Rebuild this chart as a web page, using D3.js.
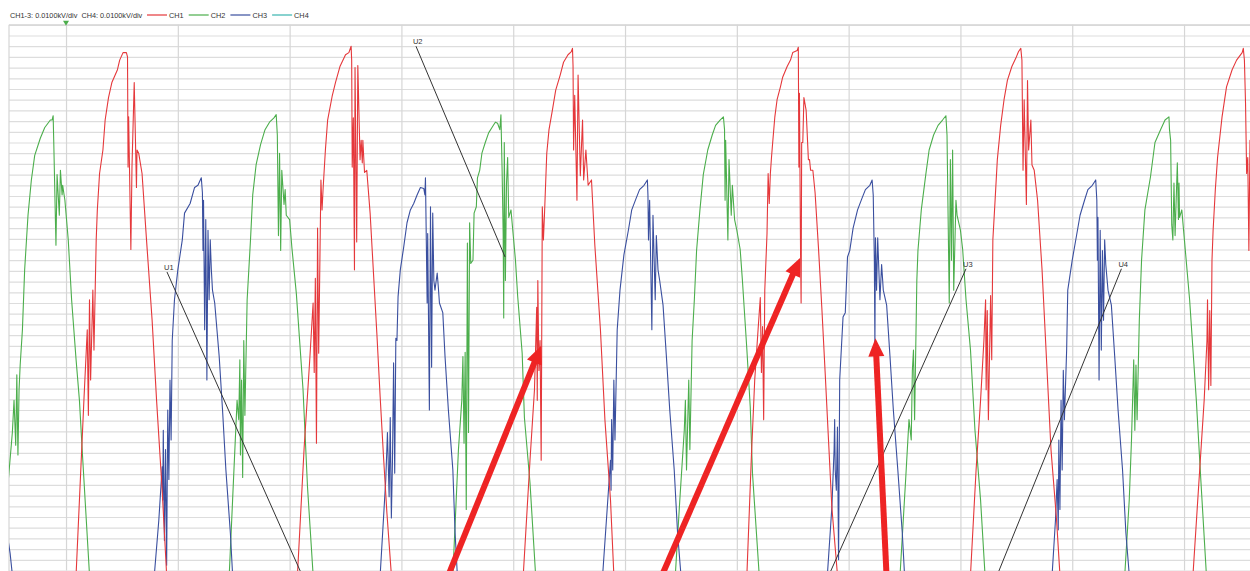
<!DOCTYPE html>
<html>
<head>
<meta charset="utf-8">
<script src="https://cdn.jsdelivr.net/npm/d3@7"></script>
<style>
  body { margin: 0; background: #fff; }
  svg { display: block; }
</style>
</head>
<body>
<div id="chart"></div>
<script>
var width = 1250;
var height = 571;

// time in ms (10 ms / div), voltage in V (1 V per fine row)
var timeDomain = [-5.1, 105.9];
var voltDomain = [0, 51];
var timeGrid = [0, 10, 20, 30, 40, 50, 60, 70, 80, 90, 100];
var voltGrid = d3.range(0, 52, 1);

var channels = ["CH1", "CH2", "CH3", "CH4"];
var channelColors = ["#e5383b", "#4cae4c", "#3a4f9f", "#3ab5b0"];
var scaleText = "CH1-3: 0.0100kV/div  CH4: 0.0100kV/div";

// CH1 (red) pulses
var ch1Pulses = [
  [[0.7,-3],[0.9,-0.4],[1.6,15.9],[1.9,22.5],[2.0,14.5],[2.1,25.3],[2.2,17.8],[2.4,26.2],[2.5,20.6],[2.7,30.9],[2.8,33.7],[3.0,37.1],[3.3,39.3],[3.5,42.1],[3.8,44.2],[4.1,45.6],[4.6,46.8],[4.8,47.7],[5.1,48.4],[5.4,48.4],[5.5,48.0],[5.55,37.7],[5.6,42.4],[5.8,30.0],[5.9,37.7],[6.1,45.6],[6.3,35.8],[6.35,39.3],[6.5,39.0],[6.8,37.1],[7.2,30.9],[7.7,23.4],[8.1,15.9],[8.6,7.5],[9.0,-0.4],[9.2,-3]],
  [[20.5,-3],[20.7,-0.4],[21.3,11.5],[21.8,19.7],[22.1,25.0],[22.2,18.5],[22.3,27.3],[22.4,11.9],[22.5,32.0],[22.6,20.3],[22.8,36.5],[22.9,33.7],[23.0,35.8],[23.2,39.3],[23.4,42.1],[23.8,44.3],[24.1,45.6],[24.5,47.1],[25.0,48.2],[25.3,48.4],[25.5,49.0],[25.55,47.7],[25.6,37.7],[25.7,42.3],[25.8,28.1],[25.85,47.0],[26.0,30.7],[26.1,47.2],[26.3,38.4],[26.4,40.2],[26.5,38.1],[26.55,40.2],[26.7,37.2],[26.9,37.4],[27.2,33.4],[27.5,27.8],[27.8,22.2],[28.1,16.2],[28.4,10.6],[28.7,5.4],[29.1,-0.4],[29.3,-3]],
  [[40.7,-3],[40.9,-0.4],[41.5,10.3],[41.9,16.9],[42.1,24.6],[42.15,15.9],[42.2,27.1],[42.3,18.7],[42.4,21.5],[42.5,10.3],[42.6,34.0],[42.7,30.9],[42.8,33.4],[43.0,39.0],[43.2,41.2],[43.5,43.0],[43.8,44.9],[44.2,46.3],[44.5,47.5],[44.9,48.2],[45.2,48.5],[45.3,48.8],[45.35,47.2],[45.4,39.3],[45.5,44.4],[45.7,34.6],[45.8,46.3],[46.0,36.9],[46.2,42.1],[46.3,36.5],[46.5,39.3],[46.7,36.0],[47.0,36.5],[47.3,30.4],[47.8,22.5],[48.2,14.1],[48.7,6.6],[49.0,-0.4],[49.2,-3]],
  [[60.7,-3],[60.9,-0.4],[61.3,10.6],[61.6,17.8],[61.9,22.5],[62.1,25.5],[62.2,18.5],[62.3,22.8],[62.4,14.1],[62.5,26.2],[62.7,31.5],[62.8,37.1],[62.9,34.3],[63.0,37.1],[63.1,38.6],[63.2,39.9],[63.4,42.4],[63.6,44.0],[63.9,45.2],[64.1,46.1],[64.5,47.1],[64.8,47.7],[65.0,48.4],[65.4,48.6],[65.5,48.9],[65.55,37.7],[65.6,44.6],[65.7,29.7],[65.75,25.0],[65.8,40.0],[65.9,40.0],[66.0,44.2],[66.2,43.0],[66.4,38.4],[66.5,38.4],[66.6,37.4],[66.8,37.4],[67.0,35.3],[67.3,30.2],[67.6,24.6],[67.9,18.5],[68.2,12.2],[68.5,5.9],[69.0,-0.4],[69.2,-3]],
  [[80.7,-3],[80.9,-0.4],[81.4,9.4],[81.8,15.9],[82.1,21.5],[82.25,25.3],[82.3,16.9],[82.4,24.3],[82.5,14.1],[82.7,25.7],[82.8,19.7],[82.9,30.9],[83.1,34.6],[83.3,38.4],[83.6,41.6],[83.9,44.0],[84.2,45.8],[84.6,47.1],[85.0,48.0],[85.2,48.5],[85.4,48.8],[85.5,47.7],[85.6,37.4],[85.7,44.0],[85.9,34.2],[86.0,45.8],[86.1,39.3],[86.3,42.1],[86.4,37.9],[86.6,37.4],[86.9,34.6],[87.3,28.1],[87.7,19.7],[88.1,11.3],[88.6,4.7],[88.9,-0.4],[89.1,-3]],
  [[100.6,-3],[100.8,-0.4],[101.4,9.4],[101.8,15.9],[102.05,21.5],[102.1,25.3],[102.2,16.9],[102.3,24.3],[102.4,17.3],[102.5,29.0],[102.6,31.8],[102.8,35.6],[103.0,38.6],[103.4,42.4],[103.8,45.2],[104.3,46.8],[104.7,47.7],[105.2,48.4],[105.3,48.8],[105.4,47.7],[105.5,43.7],[105.6,37.1],[105.7,38.6],[105.8,29.9],[105.9,40.2],[106.1,37.4],[106.4,31.8],[107.0,21.5],[107.6,-0.4]]
];

// CH2 (green) pulses
var ch2Pulses = [
  [[-6.1,-3],[-5.9,-0.4],[-5.1,9.2],[-4.8,12.9],[-4.65,15.9],[-4.5,11.7],[-4.4,18.3],[-4.3,10.8],[-4.2,16.9],[-4.1,19.2],[-3.9,22.5],[-3.7,28.1],[-3.4,33.2],[-3.1,36.5],[-2.8,38.8],[-2.3,40.4],[-1.9,41.4],[-1.4,42.1],[-1.25,42.1],[-1.15,42.5],[-1.1,40.2],[-0.9,30.4],[-0.8,37.0],[-0.6,33.2],[-0.5,37.4],[-0.35,35.1],[-0.3,36.0],[-0.1,34.6],[0.2,30.9],[0.5,25.3],[0.9,19.7],[1.2,15.9],[1.5,10.3],[2.1,-0.4],[2.3,-3]],
  [[14.4,-3],[14.6,-0.4],[14.9,6.6],[15.3,15.9],[15.45,14.1],[15.55,19.7],[15.6,10.8],[15.7,17.8],[15.8,8.7],[15.9,21.5],[16.0,14.5],[16.2,25.3],[16.5,30.9],[16.7,35.1],[17.0,37.9],[17.4,39.8],[17.8,41.2],[18.2,41.9],[18.6,42.3],[18.8,42.6],[18.9,40.7],[19.0,31.3],[19.1,39.0],[19.2,29.9],[19.3,37.4],[19.5,34.2],[19.6,35.6],[19.7,33.2],[20.0,32.8],[20.2,30.2],[20.6,25.9],[21.2,16.9],[21.6,7.8],[22.1,-0.4],[22.3,-3]],
  [[34.4,-3],[34.6,-0.4],[35.1,11.3],[35.4,15.9],[35.5,20.0],[35.6,11.9],[35.7,20.4],[35.8,5.7],[35.9,30.6],[36.0,12.9],[36.1,32.5],[36.2,28.7],[36.4,29.0],[36.5,33.4],[36.7,34.0],[36.8,36.7],[37.0,37.4],[37.2,39.0],[37.5,40.0],[37.8,40.9],[38.1,41.4],[38.4,41.9],[38.6,41.8],[38.8,41.2],[38.9,42.6],[39.0,37.7],[39.1,31.5],[39.15,23.6],[39.2,40.0],[39.3,27.1],[39.4,36.2],[39.5,38.6],[39.6,33.0],[39.8,33.7],[39.9,32.5],[40.2,29.0],[40.4,25.6],[40.8,20.3],[41.0,14.3],[41.5,8.2],[42.0,-0.4],[42.2,-3]],
  [[54.3,-3],[54.5,-0.4],[54.9,6.6],[55.3,13.1],[55.4,15.9],[55.5,9.4],[55.7,17.8],[55.8,11.3],[56.0,21.5],[56.2,25.3],[56.4,29.9],[56.7,33.7],[57.0,37.0],[57.4,39.3],[57.8,40.7],[58.1,41.6],[58.5,42.1],[58.8,42.4],[58.9,41.2],[58.95,34.6],[59.0,40.2],[59.2,30.9],[59.3,38.4],[59.5,33.2],[59.6,36.0],[59.8,32.8],[60.0,31.8],[60.3,30.0],[60.5,27.1],[60.9,20.6],[61.2,15.3],[61.4,9.1],[62.0,-0.4],[62.2,-3]],
  [[74.4,-3],[74.6,-0.4],[75.1,8.5],[75.4,14.1],[75.6,12.2],[75.7,18.7],[75.8,20.6],[75.9,14.1],[76.1,27.1],[76.2,29.9],[76.5,33.7],[76.9,37.0],[77.2,39.3],[77.6,40.7],[78.0,41.6],[78.4,42.1],[78.7,42.5],[78.8,40.7],[79.0,25.0],[79.1,38.4],[79.2,29.0],[79.3,39.3],[79.4,26.2],[79.6,34.6],[79.7,33.2],[80.0,31.8],[80.2,30.0],[80.5,25.3],[80.9,20.6],[81.3,13.1],[81.8,6.6],[82.2,-0.4],[82.4,-3]],
  [[94.5,-3],[94.7,-0.4],[95.1,6.6],[95.3,12.2],[95.5,19.7],[95.6,13.1],[95.7,19.2],[95.8,14.1],[96.0,23.4],[96.2,29.0],[96.5,33.7],[97.0,36.8],[97.4,40.0],[97.9,41.2],[98.3,42.1],[98.65,42.4],[98.7,41.2],[98.8,40.2],[98.9,32.3],[99.0,30.9],[99.1,36.2],[99.2,31.3],[99.4,38.1],[99.5,32.8],[99.55,36.2],[99.6,33.0],[99.8,33.7],[100.0,31.3],[100.5,25.3],[101.1,15.9],[101.5,8.5],[102.0,-0.4],[102.2,-3]]
];

// CH3 (blue) pulses
var ch3Pulses = [
  [[-5.9,9.4],[-5.45,4.7],[-5.0,1.6],[-4.8,-0.4],[-4.6,-3]],
  [[7.7,-3],[7.9,-0.4],[8.3,4.7],[8.6,9.7],[8.65,6.6],[8.7,13.1],[8.8,2.8],[8.9,11.3],[9.0,0.5],[9.1,15.0],[9.2,8.5],[9.3,17.8],[9.4,12.2],[9.5,21.5],[9.7,25.3],[10.0,28.1],[10.4,30.9],[10.6,33.4],[11.1,34.3],[11.5,35.8],[11.8,36.0],[12.1,36.7],[12.2,35.3],[12.25,29.9],[12.3,34.6],[12.4,22.5],[12.5,32.8],[12.6,17.8],[12.7,31.8],[12.8,25.3],[12.9,30.9],[13.0,28.1],[13.1,26.2],[13.3,25.0],[13.7,20.0],[14.0,15.0],[14.3,9.4],[14.7,3.5],[14.9,-0.4],[15.1,-3]],
  [[27.9,-3],[28.1,-0.4],[28.6,8.5],[28.75,12.9],[28.9,6.9],[29.0,14.3],[29.1,4.9],[29.2,10.3],[29.3,19.4],[29.4,9.1],[29.5,21.7],[29.6,21.5],[29.7,25.6],[29.9,28.1],[30.2,30.2],[30.5,32.5],[30.8,33.7],[31.1,34.3],[31.4,35.1],[31.7,35.8],[32.0,35.7],[32.1,35.1],[32.15,36.7],[32.3,25.0],[32.35,31.5],[32.5,15.0],[32.6,34.0],[32.7,19.0],[32.8,33.4],[32.9,27.1],[33.0,26.2],[33.2,27.8],[33.3,26.5],[33.4,25.0],[33.7,24.1],[33.9,20.0],[34.2,15.0],[34.6,9.4],[34.8,3.5],[35.0,-0.4],[35.2,-3]],
  [[47.8,-3],[48.0,-0.4],[48.4,5.7],[48.7,10.3],[48.75,7.5],[48.8,14.1],[48.9,9.4],[49.0,17.8],[49.1,12.2],[49.3,22.5],[49.55,26.2],[49.9,29.5],[50.3,31.8],[50.6,33.7],[51.0,34.8],[51.3,35.6],[51.7,36.0],[52.0,36.5],[52.05,35.1],[52.1,30.9],[52.2,34.6],[52.4,22.5],[52.5,33.2],[52.7,25.3],[52.8,31.3],[52.95,28.1],[53.1,27.1],[53.4,24.8],[53.7,20.0],[54.0,15.0],[54.4,9.4],[54.7,3.5],[55.0,-0.4],[55.2,-3]],
  [[67.9,-3],[68.1,-0.4],[68.5,5.9],[68.7,11.3],[68.75,14.1],[68.8,9.4],[68.9,7.5],[69.0,13.4],[69.1,1.0],[69.2,17.8],[69.5,23.7],[69.7,24.1],[69.9,29.3],[70.1,29.9],[70.4,32.0],[70.8,33.7],[71.2,34.8],[71.5,35.6],[71.9,36.0],[72.1,36.5],[72.2,35.1],[72.3,29.0],[72.35,21.1],[72.4,31.1],[72.5,26.2],[72.6,31.1],[72.8,25.3],[72.95,28.6],[73.1,26.2],[73.4,24.8],[73.7,20.0],[74.0,15.0],[74.4,9.4],[74.8,3.5],[75.0,-0.4],[75.2,-3]],
  [[88.0,-3],[88.2,-0.4],[88.5,4.7],[88.65,8.5],[88.75,3.8],[88.8,12.2],[88.9,5.7],[89.0,15.9],[89.1,9.4],[89.2,18.7],[89.3,14.1],[89.5,20.6],[89.6,26.2],[90.0,29.0],[90.4,31.4],[90.7,33.2],[91.1,34.6],[91.4,35.6],[91.8,36.0],[92.1,36.5],[92.2,34.6],[92.25,29.0],[92.3,33.0],[92.4,17.8],[92.5,31.8],[92.6,20.6],[92.7,29.9],[92.8,23.4],[92.9,30.9],[93.0,28.6],[93.2,26.2],[93.5,24.8],[93.8,20.0],[94.1,15.0],[94.5,9.4],[94.8,3.5],[95.1,-0.4],[95.3,-3]]
];

// CH4 (teal) sits just under the bottom edge
var ch4Trace = [[-5.1, -0.09], [105.9, -0.09]];

// cursor markers: label, start [t, v], end [t, v]
var markerLabels = ["U1", "U2", "U3", "U4"];
var markerStarts = [[9.03, 27.9], [31.3, 49.0], [80.5, 28.2], [94.4, 28.2]];
var markerEnds = [[21.1, -0.4], [39.27, 29.3], [68.25, -0.4], [83.3, -0.4]];

// red arrows: tail [t, v] -> tip [t, v]
var arrowTails = [[34.1, -0.7], [53.2, -0.7], [73.4, -0.7]];
var arrowTips = [[42.5, 21.0], [65.65, 29.2], [72.4, 21.7]];

var plotLeft = 9, plotTop = 24.8, plotBottom = 570.5;

var x = d3.scaleLinear().domain(timeDomain).range([plotLeft, width]);
var y = d3.scaleLinear().domain(voltDomain).range([plotBottom, plotTop]);

var svg = d3.select("#chart").append("svg")
    .attr("width", width)
    .attr("height", height)
    .style("font-family", "'Liberation Sans', Arial, sans-serif");

svg.append("defs").append("clipPath").attr("id", "plot-clip")
  .append("rect")
    .attr("x", plotLeft)
    .attr("y", plotTop)
    .attr("width", width - plotLeft)
    .attr("height", height - plotTop);

// grid
var yGrid = svg.append("g")
    .attr("transform", "translate(" + plotLeft + ",0)")
    .call(d3.axisLeft(y).tickValues(voltGrid).tickSize(-(width - plotLeft)).tickFormat(""));
yGrid.select(".domain").remove();
yGrid.selectAll("line").attr("stroke", "#dddddd").attr("stroke-width", 1.2);

var xGrid = svg.append("g")
    .attr("transform", "translate(0," + plotBottom + ")")
    .call(d3.axisBottom(x).tickValues(timeGrid).tickSize(-(plotBottom - plotTop)).tickFormat(""));
xGrid.select(".domain").remove();
xGrid.selectAll("line").attr("stroke", "#d6d6d6").attr("stroke-width", 1.2);

// frame edges
svg.append("line")
    .attr("x1", plotLeft).attr("x2", plotLeft)
    .attr("y1", plotTop).attr("y2", height)
    .attr("stroke", "#d6d6d6").attr("stroke-width", 1.2);
svg.append("line")
    .attr("x1", plotLeft).attr("x2", width)
    .attr("y1", plotTop).attr("y2", plotTop)
    .attr("stroke", "#d6d6d6").attr("stroke-width", 1.2);

// trigger marker
svg.append("path")
    .attr("d", "M" + (x(0) - 3) + "," + (plotTop - 4) + "L" + (x(0) + 3) + "," + (plotTop - 4) + "L" + x(0) + "," + (plotTop + 1) + "Z")
    .attr("fill", "#4cae4c");

var line = d3.line()
    .x(function(d) { return x(d[0]); })
    .y(function(d) { return y(d[1]); });

var traces = svg.append("g").attr("clip-path", "url(#plot-clip)");

var allTraces = [
  { color: channelColors[3], pts: ch4Trace },
  { color: channelColors[1], pts: [].concat.apply([], ch2Pulses) },
  { color: channelColors[2], pts: [].concat.apply([], ch3Pulses) },
  { color: channelColors[0], pts: [].concat.apply([], ch1Pulses) }
];

traces.selectAll("path.trace")
    .data(allTraces)
    .enter().append("path")
    .attr("class", "trace")
    .attr("d", function(d) { return line(d.pts); })
    .attr("fill", "none")
    .attr("stroke", function(d) { return d.color; })
    .attr("stroke-width", 1.1)
    .attr("stroke-linejoin", "round");

// cursor lines
var markers = traces.selectAll("g.marker")
    .data(markerLabels)
    .enter().append("g")
    .attr("class", "marker");

markers.append("line")
    .attr("x1", function(d, i) { return x(markerStarts[i][0]); })
    .attr("y1", function(d, i) { return y(markerStarts[i][1]); })
    .attr("x2", function(d, i) { return x(markerEnds[i][0]); })
    .attr("y2", function(d, i) { return y(markerEnds[i][1]); })
    .attr("stroke", "#333")
    .attr("stroke-width", 1);

markers.append("text")
    .attr("x", function(d, i) { return x(markerStarts[i][0]) - 3; })
    .attr("y", function(d, i) { return y(markerStarts[i][1]) - 2; })
    .attr("font-size", "7.5px")
    .attr("fill", "#333")
    .text(function(d) { return d; });

// red arrows
var arrowColor = "#ee2424";
var arrows = traces.selectAll("g.arrow")
    .data(arrowTips)
    .enter().append("g")
    .attr("class", "arrow");

arrows.each(function(tip, i) {
    var x0 = x(arrowTails[i][0]), y0 = y(arrowTails[i][1]);
    var x1 = x(tip[0]), y1 = y(tip[1]);
    var len = Math.sqrt((x1 - x0) * (x1 - x0) + (y1 - y0) * (y1 - y0));
    var ux = (x1 - x0) / len, uy = (y1 - y0) / len;
    var headLen = 18, headHalf = 8;
    var bx = x1 - ux * headLen, by = y1 - uy * headLen;
    var g = d3.select(this);
    g.append("line")
        .attr("x1", x0).attr("y1", y0)
        .attr("x2", bx + ux * 2).attr("y2", by + uy * 2)
        .attr("stroke", arrowColor)
        .attr("stroke-width", 6);
    g.append("path")
        .attr("d", "M" + x1 + "," + y1 +
            "L" + (bx - uy * headHalf) + "," + (by + ux * headHalf) +
            "L" + (bx + uy * headHalf) + "," + (by - ux * headHalf) + "Z")
        .attr("fill", arrowColor);
});

// legend
var legend = svg.append("g").attr("transform", "translate(0,15)");

legend.append("text")
    .attr("x", 10)
    .attr("y", 2.5)
    .attr("font-size", "7.3px")
    .attr("fill", "#333")
    .attr("xml:space", "preserve")
    .text(scaleText);

var items = legend.selectAll("g.item")
    .data(channels)
    .enter().append("g")
    .attr("class", "item")
    .attr("transform", function(d, i) { return "translate(" + (147 + i * 41.7) + ",0)"; });

items.append("line")
    .attr("x1", 0).attr("x2", 20)
    .attr("y1", 0).attr("y2", 0)
    .attr("stroke", function(d, i) { return channelColors[i]; })
    .attr("stroke-width", 1.2);

items.append("text")
    .attr("x", 22)
    .attr("y", 2.5)
    .attr("font-size", "7.3px")
    .attr("fill", "#333")
    .text(function(d) { return d; });
</script>
</body>
</html>
